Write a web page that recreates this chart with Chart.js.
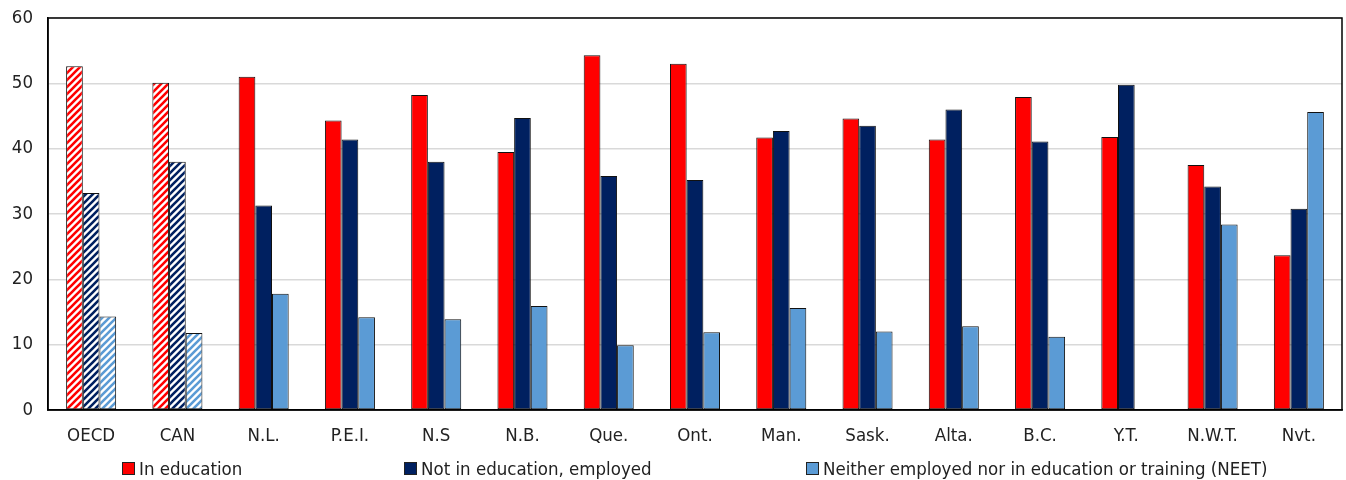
<!DOCTYPE html>
<html>
<head>
<meta charset="utf-8">
<script src="https://cdn.jsdelivr.net/npm/chart.js@4/dist/chart.umd.min.js"></script>
<style>
    body { margin: 0; background: #fff; }
    #wrap { position: relative; width: 1346px; height: 480px; overflow: hidden; }
    #legend { position: absolute; left: 0; top: 458px; width: 1346px; height: 22px;
        font-family: "Liberation Sans Narrow", "Arial Narrow", "DejaVu Sans Condensed", sans-serif;
        font-size: 18.5px; color: #222; }
    .legend-item { position: absolute; top: 0; display: flex; align-items: center; white-space: nowrap; }
    .legend-box { width: 11px; height: 11px; border: 1px solid #222; margin-right: 4px; }
</style>
</head>
<body>
<div id="wrap">
    <canvas id="chart" width="1346" height="480"></canvas>
    <div id="legend"></div>
</div>
<script>
// Chart data
const categories = ['OECD', 'CAN', 'N.L.', 'P.E.I.', 'N.S', 'N.B.', 'Que.', 'Ont.', 'Man.', 'Sask.', 'Alta.', 'B.C.', 'Y.T.', 'N.W.T.', 'Nvt.'];
const inEducation = [52.6, 50.1, 51.0, 44.3, 48.2, 39.5, 54.3, 53.0, 41.7, 44.6, 41.4, 47.9, 41.8, 37.5, 23.7];
const employed = [33.2, 38.0, 31.3, 41.4, 38.0, 44.7, 35.8, 35.2, 42.7, 43.5, 46.0, 41.1, 49.8, 34.2, 30.8];
const neet = [14.3, 11.8, 17.8, 14.2, 13.9, 15.9, 9.9, 11.9, 15.6, 12.0, 12.8, 11.2, null, 28.4, 45.6];
const seriesNames = ['In education', 'Not in education, employed', 'Neither employed nor in education or training (NEET)'];
const hatchedCategories = ['OECD', 'CAN'];
const yTicks = [0, 10, 20, 30, 40, 50, 60];

const colors = ['#ff0000', '#002060', '#5b9bd5'];
const fontFamily = '"Liberation Sans Narrow", "Arial Narrow", "DejaVu Sans Condensed", sans-serif';

// diagonal stripes for the OECD / CAN bars
function makeHatch(color) {
    const size = 7;
    const c = document.createElement('canvas');
    c.width = size;
    c.height = size;
    const g = c.getContext('2d');
    g.fillStyle = '#fff';
    g.fillRect(0, 0, size, size);
    g.strokeStyle = color;
    g.lineWidth = 2.6;
    g.beginPath();
    g.moveTo(-1, size + 1); g.lineTo(size + 1, -1);
    g.moveTo(-1, 1); g.lineTo(1, -1);
    g.moveTo(size - 1, size + 1); g.lineTo(size + 1, size - 1);
    g.stroke();
    return g.createPattern(c, 'repeat');
}

function barColors(color) {
    const hatch = makeHatch(color);
    return categories.map(c => hatchedCategories.includes(c) ? hatch : color);
}

const seriesData = [inEducation, employed, neet];

const frame = {
    id: 'frame',
    afterDatasetsDraw(chart) {
        const a = chart.chartArea;
        const ctx = chart.ctx;
        ctx.save();
        ctx.strokeStyle = '#000';
        ctx.lineWidth = 1.5;
        ctx.strokeRect(a.left, a.top, a.right - a.left, a.bottom - a.top);
        ctx.restore();
    }
};

const ctx = document.getElementById('chart').getContext('2d');
const chart = new Chart(ctx, {
    type: 'bar',
    data: {
        labels: categories,
        datasets: seriesData.map((d, i) => ({
            label: seriesNames[i],
            data: d,
            backgroundColor: barColors(colors[i]),
            borderColor: '#111',
            borderWidth: 1,
            borderSkipped: false
        }))
    },
    options: {
        responsive: false,
        animation: false,
        layout: { padding: { top: 18, right: 4, bottom: 35, left: 0 } },
        datasets: { bar: { categoryPercentage: 0.58, barPercentage: 1.0 } },
        plugins: {
            legend: { display: false },
            tooltip: { enabled: false }
        },
        scales: {
            x: {
                grid: { display: false, drawTicks: false },
                border: { color: '#000', width: 1.5 },
                ticks: { color: '#222', padding: 15, font: { family: fontFamily, size: 18.5 } },
                afterFit: s => { s.height = 35; }
            },
            y: {
                min: 0,
                max: 60,
                afterBuildTicks: s => { s.ticks = yTicks.map(v => ({ value: v })); },
                grid: { color: '#d9d9d9', lineWidth: 1.5, drawTicks: false },
                border: { color: '#000', width: 1.5 },
                ticks: { color: '#222', padding: 15, font: { family: fontFamily, size: 18.5 } },
                afterFit: s => { s.width = 48; s.paddingTop = 0; s.paddingBottom = 0; }
            }
        }
    },
    plugins: [frame]
});

// legend below the chart
const legend = document.getElementById('legend');
const legendLeft = [122, 404, 806];
seriesNames.forEach((name, i) => {
    const item = document.createElement('div');
    item.className = 'legend-item';
    item.style.left = legendLeft[i] + 'px';
    const box = document.createElement('span');
    box.className = 'legend-box';
    box.style.background = colors[i];
    const text = document.createElement('span');
    text.textContent = name;
    item.appendChild(box);
    item.appendChild(text);
    legend.appendChild(item);
});
</script>
</body>
</html>
